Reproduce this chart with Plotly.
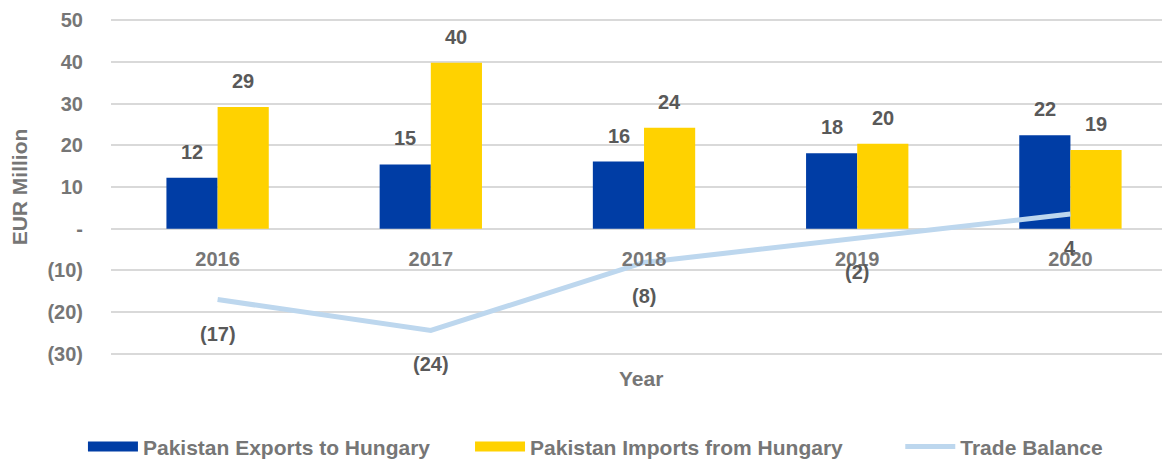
import plotly.graph_objects as go

years = ["2016", "2017", "2018", "2019", "2020"]
exports = [12.2, 15.4, 16.1, 18.1, 22.4]
imports = [29.2, 39.8, 24.2, 20.4, 18.9]
balance = [-17.0, -24.4, -8.1, -2.3, 3.5]
y_ticks = [-30, -20, -10, 0, 10, 20, 30, 40, 50]
y_ticktext = ["(30)", "(20)", "(10)", "-", "10", "20", "30", "40", "50"]
series_names = ["Pakistan Exports to Hungary", "Pakistan Imports from Hungary", "Trade Balance"]

def fmt(v):
    r = round(abs(v))
    if r == 0:
        return "-"
    return f"({r})" if v < 0 else f"{r}"

FONT = "Liberation Sans"
LABEL_C = "#595959"
AXIS_C = "#767676"
BLUE = "#003DA5"
YELLOW = "#FFD200"
LINE = "#BDD7EE"
NB = "\u00a0"

idx = list(range(len(years)))

fig = go.Figure()
fig.add_trace(go.Bar(x=idx, y=exports, name=series_names[0], showlegend=False,
                     legendgroup="exp", marker=dict(color=BLUE, line=dict(width=0))))
fig.add_trace(go.Bar(x=idx, y=imports, name=series_names[1], showlegend=False,
                     legendgroup="imp", marker=dict(color=YELLOW, line=dict(width=0))))
fig.add_trace(go.Scatter(x=idx, y=balance, name=series_names[2], mode="lines",
                         showlegend=False, legendgroup="bal",
                         line=dict(color=LINE, width=5)))
# legend swatches (wide rectangles like the original)
fig.add_trace(go.Scatter(x=[None], y=[None], mode="lines", legendgroup="exp",
                         name=series_names[0] + NB * 6, line=dict(color=BLUE, width=15)))
fig.add_trace(go.Scatter(x=[None], y=[None], mode="lines", legendgroup="imp",
                         name=series_names[1] + NB * 9, line=dict(color=YELLOW, width=15)))
fig.add_trace(go.Scatter(x=[None], y=[None], mode="lines", legendgroup="bal",
                         name=series_names[2], line=dict(color=LINE, width=5)))

lab_font = dict(family=FONT, size=20, color=LABEL_C, weight="bold")
ann = []
bar_off = 25.5
for i, v in zip(idx, exports):
    ann.append(dict(x=i, y=v, text=fmt(v), xshift=-bar_off, yshift=26, showarrow=False, font=lab_font))
for i, v in zip(idx, imports):
    ann.append(dict(x=i, y=v, text=fmt(v), xshift=bar_off, yshift=26, showarrow=False, font=lab_font))
for i, v in zip(idx, balance):
    ann.append(dict(x=i, y=v, text=fmt(v), yshift=-34, showarrow=False, font=lab_font))
ann.append(dict(x=0.5, xref="paper", y=0, yref="paper", yanchor="middle", yshift=-23,
                text="Year", showarrow=False,
                font=dict(family=FONT, size=21, color=AXIS_C, weight="bold")))

ymin, ymax = -30.3, 50.3
W, H = 1162, 452
fig.update_layout(
    width=W, height=H,
    margin=dict(l=103, r=0, t=11, b=105, autoexpand=False),
    plot_bgcolor="white", paper_bgcolor="white",
    barmode="group", bargap=0.52, bargroupgap=0,
    font=dict(family=FONT, color=AXIS_C),
    xaxis=dict(anchor="free", position=(0 - ymin) / (ymax - ymin),
               range=[-0.5, len(years) - 0.533], tickvals=idx, ticktext=years,
               showgrid=False, showline=False, zeroline=False, ticks="",
               ticklabelstandoff=16, automargin=False,
               tickfont=dict(family=FONT, size=20, color=AXIS_C, weight="bold")),
    yaxis=dict(range=[ymin, ymax], tickvals=y_ticks, ticktext=y_ticktext,
               showgrid=True, gridcolor="#D9D9D9", gridwidth=1.5, zeroline=False,
               ticks="", ticklabelstandoff=27, automargin=False,
               tickfont=dict(family=FONT, size=20, color=AXIS_C, weight="bold"),
               title=dict(text="EUR Million", standoff=14,
                          font=dict(family=FONT, size=21, color=AXIS_C, weight="bold"))),
    legend=dict(orientation="h", xref="container", x=0.0645, xanchor="left",
                yref="container", y=0.029, yanchor="middle", itemwidth=50,
                font=dict(family=FONT, size=21, color=AXIS_C, weight="bold")),
    annotations=ann,
)
fig.write_html("out.html")
